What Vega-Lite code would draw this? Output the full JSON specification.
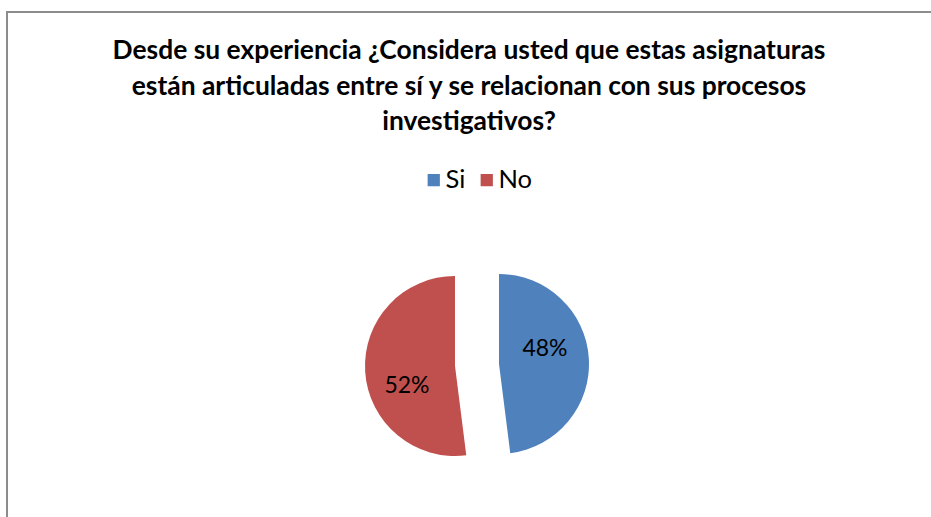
{
  "$schema": "https://vega.github.io/schema/vega-lite/v6.json",
  "width": 924,
  "height": 505,
  "autosize": "none",
  "padding": {"left": 7, "top": 12, "right": 0, "bottom": 0},
  "background": "white",
  "config": {
    "view": {"stroke": null},
    "font": "Lato"
  },
  "title": {
    "text": [
      "Desde su experiencia ¿Considera usted que estas asignaturas",
      "están articuladas entre sí y se relacionan con sus procesos",
      "investigativos?"
    ],
    "font": "Lato",
    "fontSize": 26.4,
    "fontWeight": "bold",
    "color": "black",
    "anchor": "middle",
    "lineHeight": 35.5,
    "offset": -124.5
  },
  "data": {
    "values": [
      {"respuesta": "Si", "proporcion": 0.48},
      {"respuesta": "No", "proporcion": 0.52}
    ]
  },
  "transform": [
    {"stack": "proporcion", "groupby": [], "as": ["inicio", "fin"], "sort": [{"field": "respuesta", "order": "descending"}]}
  ],
  "layer": [
    {
      "data": {"values": [{"marco": "borde"}]},
      "transform": [],
      "mark": {"type": "rect", "fill": "white", "stroke": "#8c8c8c", "strokeWidth": 2, "strokeDash": [924, 1429, 520]},
      "encoding": {}
    },
    {
      "transform": [{"filter": "datum.respuesta == 'Si'"}],
      "mark": {"type": "arc", "radius": 90, "xOffset": 30, "yOffset": 99.5},
      "encoding": {
        "theta": {"field": "inicio", "type": "quantitative", "scale": {"domain": [0, 1]}},
        "theta2": {"field": "fin"},
        "color": {
          "field": "respuesta", "type": "nominal",
          "scale": {"domain": ["Si", "No"], "range": ["#4F81BD", "#C0504D"]},
          "legend": {
            "title": null, "orient": "none", "direction": "horizontal",
            "legendX": 414, "legendY": 155,
            "symbolType": "square", "symbolSize": 150, "symbolStrokeWidth": 0,
            "labelFontSize": 25.5, "labelFont": "Lato", "labelColor": "black",
            "labelOffset": -1, "columnPadding": 8
          }
        }
      }
    },
    {
      "transform": [{"filter": "datum.respuesta == 'No'"}],
      "mark": {"type": "arc", "radius": 90, "xOffset": -14, "yOffset": 101.5},
      "encoding": {
        "theta": {"field": "inicio", "type": "quantitative", "scale": {"domain": [0, 1]}},
        "theta2": {"field": "fin"},
        "color": {"field": "respuesta", "type": "nominal"}
      }
    },
    {
      "transform": [{"filter": "datum.respuesta == 'Si'"}],
      "mark": {"type": "text", "radius": 0, "xOffset": 30, "yOffset": 99.5, "dx": 46, "dy": -15.5, "fontSize": 23, "font": "Lato", "color": "black"},
      "encoding": {
        "theta": {"field": "inicio", "type": "quantitative", "scale": {"domain": [0, 1]}},
        "text": {"field": "proporcion", "type": "quantitative", "format": ".0%"}
      }
    },
    {
      "transform": [{"filter": "datum.respuesta == 'No'"}],
      "mark": {"type": "text", "radius": 0, "xOffset": -14, "yOffset": 101.5, "dx": -48, "dy": 20, "fontSize": 23, "font": "Lato", "color": "black"},
      "encoding": {
        "theta": {"field": "inicio", "type": "quantitative", "scale": {"domain": [0, 1]}},
        "text": {"field": "proporcion", "type": "quantitative", "format": ".0%"}
      }
    }
  ]
}
